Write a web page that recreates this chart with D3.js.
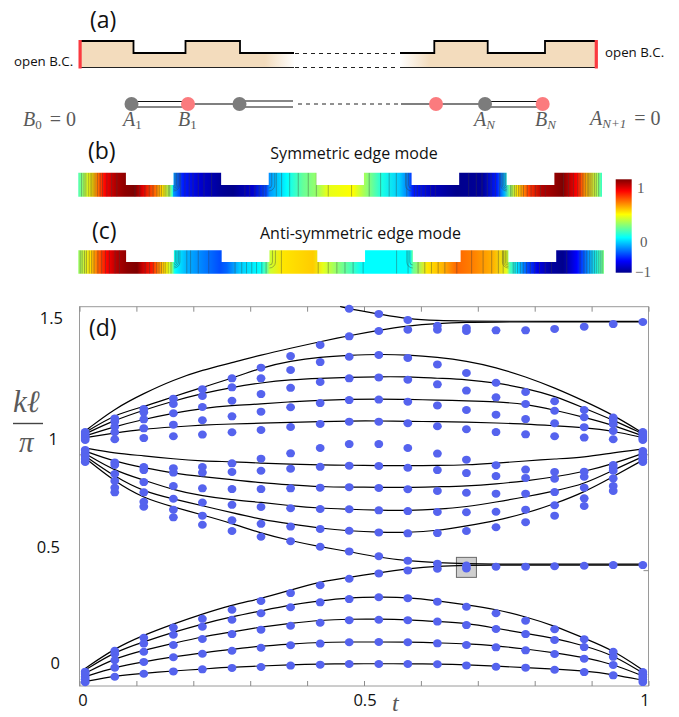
<!DOCTYPE html>
<html>
<head>
<meta charset="utf-8">
<script src="https://cdn.jsdelivr.net/npm/d3@7"></script>
<style>
  html, body { margin: 0; padding: 0; background: #fff; }
  svg { display: block; }
  text { font-family: "Open Sans", sans-serif; fill: #111; }
  .math { font-family: "Liberation Serif", serif; fill: #5a5a5a; }
</style>
</head>
<body>
<div id="chart"></div>
<script>
// panel (d): measured points, one list per t column
var dotT = [0.01, 0.062, 0.113, 0.165, 0.216, 0.268, 0.319, 0.371, 0.423, 0.474, 0.526, 0.577, 0.629, 0.68, 0.732, 0.784, 0.835, 0.887, 0.938, 0.99]
var dotK = [
  [.016, .029, .040, .052, .062, .967, .980, .993, 1.006, 1.019, 1.062, 1.070, 1.079, 1.088, 1.096],
  [.040, .079, .111, .138, .152, .836, .856, .885, .915, .954, .965, 1.065, 1.095, 1.119, 1.141, 1.155],
  [.053, .104, .148, .183, .208, .774, .795, .836, .880, .932, .945, 1.070, 1.112, 1.151, 1.181, 1.196],
  [.063, .124, .177, .221, .252, .728, .761, .808, .863, .921, .940, 1.078, 1.128, 1.177, 1.217, 1.240],
  [.072, .139, .203, .256, .290, .696, .735, .792, .853, .921, .945, 1.085, 1.147, 1.204, 1.252, 1.281],
  [.078, .152, .224, .286, .329, .669, .715, .782, .850, .924, .961, 1.095, 1.164, 1.231, 1.289, 1.328],
  [.082, .165, .243, .314, .367, .644, .700, .773, .850, .929, .981, 1.105, 1.184, 1.260, 1.328, 1.374],
  [.088, .176, .260, .340, .401, .625, .688, .767, .853, .938, 1.004, 1.118, 1.203, 1.287, 1.364, 1.424],
  [.092, .183, .273, .361, .435, .601, .678, .764, .856, .946, 1.027, 1.131, 1.221, 1.312, 1.398, 1.472],
  [.095, .189, .284, .375, .463, .581, .670, .763, .858, .951, 1.044, 1.141, 1.234, 1.328, 1.421, 1.509, 1.628],
  [.095, .190, .286, .383, .486, .560, .663, .758, .855, .950, 1.044, 1.141, 1.236, 1.332, 1.429, 1.532, 1.606],
  [.095, .189, .284, .379, .499, .541, .659, .755, .849, .942, 1.027, 1.134, 1.227, 1.322, 1.416, 1.538, 1.580],
  [.094, .184, .278, .364, .506, .528, .660, .751, .842, .932, 1.003, 1.121, 1.211, 1.302, 1.388, 1.538, 1.555],
  [.089, .177, .263, .342, .507, .520, .669, .750, .834, .919, .977, 1.108, 1.191, 1.275, 1.351, 1.532, 1.545],
  [.083, .167, .246, .314, .515, .685, .752, .830, .906, .953, 1.096, 1.171, 1.246, 1.309, 1.535],
  [.079, .154, .224, .282, .515, .707, .761, .830, .898, .934, 1.086, 1.152, 1.217, 1.269, 1.535],
  [.070, .138, .199, .245, .517, .735, .780, .837, .895, .924, 1.078, 1.134, 1.188, 1.229, 1.541],
  [.060, .118, .168, .202, .519, .777, .810, .856, .903, .925, 1.072, 1.117, 1.160, 1.191, 1.551],
  [.046, .091, .126, .148, .522, .842, .863, .896, .929, .941, .954, 1.065, 1.101, 1.130, 1.148, 1.159, 1.562],
  [.017, .028, .039, .050, .060, .522, .967, .978, .988, 1.001, 1.014, 1.062, 1.070, 1.079, 1.088, 1.096, 1.571]
]

// panel (d): theory curves, values at each t in dotT
var bandC1 = [.019, .044, .055, .065, .073, .082, .086, .092, .095, .096, .096, .096, .095, .092, .086, .079, .073, .065, .050, .025]
var bandC2 = [.040, .081, .105, .126, .144, .158, .173, .181, .189, .190, .190, .190, .186, .183, .174, .160, .144, .124, .094, .043]
var bandC3 = [.055, .120, .155, .184, .213, .233, .255, .271, .284, .289, .289, .286, .278, .272, .249, .227, .206, .174, .134, .056]
var bandC4 = [.069, .148, .191, .232, .268, .299, .324, .350, .368, .381, .384, .383, .368, .351, .331, .299, .260, .206, .155, .069]
var edgeLow = [.076, .163, .220, .268, .311, .350, .377, .414, .450, .469, .489, .506, .518, .521, .522, .522, .522, .522, .522, .522]
var edgeMid = [.984, .882, .810, .773, .738, .702, .659, .627, .601, .580, .555, .540, .532, .528, .526, .526, .526, .526, .526, .526]
var bandD4 = [.993, .903, .839, .807, .778, .748, .719, .699, .681, .669, .663, .662, .670, .691, .713, .745, .786, .836, .903, .975]
var bandD3 = [1.003, .928, .889, .846, .820, .803, .793, .778, .767, .763, .758, .757, .762, .773, .794, .816, .842, .871, .932, .990]
var bandD2 = [1.014, .968, .942, .918, .903, .891, .877, .868, .860, .858, .858, .856, .860, .863, .872, .885, .902, .925, .959, 1.004]
var bandD1 = [1.027, 1.004, .994, .980, .971, .968, .962, .958, .954, .953, .951, .951, .952, .954, .962, .971, .980, .987, 1.007, 1.023]
var bandU1 = [1.072, 1.092, 1.109, 1.118, 1.126, 1.131, 1.134, 1.138, 1.141, 1.144, 1.144, 1.142, 1.141, 1.139, 1.135, 1.131, 1.123, 1.115, 1.101, 1.072]
var bandU2 = [1.079, 1.120, 1.151, 1.177, 1.199, 1.211, 1.217, 1.227, 1.233, 1.237, 1.239, 1.237, 1.234, 1.231, 1.227, 1.217, 1.191, 1.160, 1.126, 1.079]
var bandU3 = [1.088, 1.148, 1.191, 1.230, 1.263, 1.289, 1.309, 1.322, 1.328, 1.332, 1.335, 1.335, 1.328, 1.323, 1.309, 1.285, 1.252, 1.199, 1.148, 1.088]
var bandU4 = [1.094, 1.172, 1.205, 1.249, 1.289, 1.328, 1.374, 1.403, 1.420, 1.427, 1.432, 1.429, 1.419, 1.403, 1.375, 1.335, 1.287, 1.230, 1.170, 1.092]
var edgeTop = [1.101, 1.198, 1.263, 1.321, 1.364, 1.395, 1.429, 1.458, 1.486, 1.512, 1.536, 1.555, 1.565, 1.570, 1.571, 1.571, 1.571, 1.571, 1.571, 1.571]
// this one comes in from above the frame, so it has its own t list
var fallT = [0.458, 0.474, 0.526, 0.577, 0.629, 0.68, 0.732, 0.99]
var fallK = [1.638, 1.627, 1.606, 1.584, 1.577, 1.575, 1.574, 1.574]

var curveList = [bandC1, bandC2, bandC3, bandC4, edgeLow, edgeMid, bandD4, bandD3, bandD2, bandD1, bandU1, bandU2, bandU3, bandU4, edgeTop]

var xTicks = [0, 0.1, 0.2, 0.3, 0.4, 0.5, 0.6, 0.7, 0.8, 0.9, 1]
var xLabels = ["0", "0.5", "1"]
var yLabels = ["0", "0.5", "1", "1.5"]
var boxT = 0.68, boxK = 0.512

// panels (b), (c): field along the strip, position in step lengths and value
var fieldBU = [0, .2, .29, .39, .56, .77, .98, 1.19, 1.36, 1.61, 1.78, 1.92, 1.99, 2, 2.2, 2.55, 2.97, 3.25, 3.67, 3.96, 4.02, 4.38, 4.72, 5.01, 5.22, 5.77, 5.97, 6.39, 6.75, 6.92, 7.03, 7.45, 7.95, 8.49, 8.79, 8.95, 9.06, 9.21, 9.48, 9.75, 10.17, 10.47, 10.68, 10.89, 11]
var fieldBV = [-.1, .2, .3, .5, .75, .9, .97, 1, .8, .55, .3, .05, -.2, -.45, -.7, -.85, -.97, -1, -.85, -.6, -.45, -.25, -.05, .05, .2, .25, .1, -.2, -.35, -.5, -.7, -.9, -1, -.97, -.7, -.4, 0, .3, .65, .9, 1, .75, .4, .1, -.15]
var fieldCU = [0, .24, .41, .6, .81, 1.02, 1.23, 1.35, 1.54, 1.71, 1.86, 1.96, 2.02, 2.27, 2.61, 2.96, 3.11, 3.38, 3.8, 3.95, 4.01, 4.28, 4.91, 5.12, 5.47, 5.68, 5.96, 6.94, 7, 7.3, 7.63, 7.92, 8.26, 8.68, 8.97, 9.03, 9.18, 9.39, 9.6, 9.87, 10.14, 10.43, 10.64, 10.85, 11]
var fieldCV = [.05, .3, .55, .75, .9, .97, 1, .85, .7, .45, .25, .05, -.25, -.4, -.5, -.6, -.55, -.35, -.25, -.05, .15, .3, .35, .2, 0, -.1, -.25, -.25, -.05, .3, .4, .55, .5, .4, .2, -.1, -.3, -.6, -.8, -.95, -1, -.75, -.5, -.2, 0]
var contourB = [.07, .12, .16, .21, .25, .28, .31, .35, .40, .46, .51, .6, .7, .81, 1.19, 1.29, 1.4, 1.49, 1.57, 1.65, 1.7, 1.75, 1.8, 1.84, 1.89, 1.92, 2.15, 2.24, 2.33, 2.41, 2.52, 2.64, 2.8, 3.5, 3.6, 3.71, 3.8, 3.88, 3.94, 4.16, 4.27, 4.44, 4.62, 4.83, 5, 5.25, 5.74, 6.11, 6.35, 6.53, 6.68, 6.9, 7.06, 7.12, 7.2, 7.29, 7.4, 7.5, 8.2, 8.36, 8.48, 8.59, 8.67, 8.76, 8.85, 9.08, 9.11, 9.16, 9.2, 9.25, 9.3, 9.35, 9.43, 9.51, 9.6, 9.71, 9.81, 10.19, 10.3, 10.4, 10.49, 10.54, 10.6, 10.65, 10.69, 10.72, 10.75, 10.79, 10.84, 10.88, 10.93]
var contourC = [.04, .08, .13, .17, .23, .28, .33, .41, .49, .57, .65, .77, .86, 1.4, 1.49, 1.57, 1.64, 1.69, 1.74, 1.79, 1.83, 1.88, 1.94, 2.27, 2.35, 2.51, 2.73, 3.28, 3.42, 3.52, 3.63, 3.73, 3.84, 3.93, 4.25, 5.02, 5.23, 5.41, 5.58, 5.75, 5.96, 6.66, 6.9, 7.11, 7.25, 7.39, 7.53, 7.67, 7.92, 8.23, 8.47, 8.65, 8.79, 8.89, 9.1, 9.14, 9.19, 9.25, 9.31, 9.38, 9.46, 9.55, 9.65, 9.77, 9.9, 10.22, 10.5, 10.58, 10.64, 10.7, 10.75, 10.8, 10.84, 10.88, 10.92, 10.96]
var stripLevels = [1, 0, 1, 0, 1, 0, 1, 0, 1, 0, 1]
var cornerSteps = [2, 4, 7, 9]
var colorbarTicks = ["1", "0", "\u22121"]

var svg = d3.select("#chart").append("svg").attr("width", 679).attr("height", 717)
var defs = svg.append("defs")

// jet colormap
var jet = d3.scaleLinear()
  .domain([-1, -.75, -.25, .25, .75, 1])
  .range(["#00008c", "#0000ff", "#00ffff", "#ffff00", "#ff0000", "#7f0000"])

function label(s, x, y, size, anchor) {
  return svg.append("text").attr("x", x).attr("y", y).attr("font-size", size)
    .attr("text-anchor", anchor || "start").text(s)
}

// text like  A_N = 0  in a TeX looking face
function mathLabel(x, y, base, sub, tail) {
  var t = svg.append("text").attr("class", "math").attr("x", x).attr("y", y).attr("font-size", 20)
  t.append("tspan").attr("font-style", "italic").text(base)
  t.append("tspan").attr("font-size", 13).attr("dy", 3).attr("font-style", sub == "0" || sub == "1" ? "normal" : "italic").text(sub)
  if (tail) t.append("tspan").attr("dy", -3).attr("dx", 8).text(tail)
}

/* ---------- panel (a) ---------- */
var peach = "#f3dcbd"
var gradL = defs.append("linearGradient").attr("id", "fadeL")
  .attr("gradientUnits", "userSpaceOnUse").attr("x1", 265).attr("x2", 295).attr("y1", 0).attr("y2", 0)
gradL.append("stop").attr("offset", 0).attr("stop-color", peach)
gradL.append("stop").attr("offset", 1).attr("stop-color", "#fff")
var gradR = defs.append("linearGradient").attr("id", "fadeR")
  .attr("gradientUnits", "userSpaceOnUse").attr("x1", 400).attr("x2", 430).attr("y1", 0).attr("y2", 0)
gradR.append("stop").attr("offset", 0).attr("stop-color", "#fff")
gradR.append("stop").attr("offset", 1).attr("stop-color", peach)

var wallL = "M80,41H133.5V53H185.5V41H240V53H294"
var wallR = "M400,53H434.3V41H487.7V53H545V41H595"
svg.append("path").attr("d", wallL + "V67.5H80Z").attr("fill", "url(#fadeL)")
svg.append("path").attr("d", wallR + "V67.5H400Z").attr("fill", "url(#fadeR)")
svg.append("path").attr("d", wallL).attr("fill", "none").attr("stroke", "#000").attr("stroke-width", 1.8)
svg.append("path").attr("d", wallR).attr("fill", "none").attr("stroke", "#000").attr("stroke-width", 1.8)
svg.append("path").attr("d", "M80,67.5H294M400,67.5H595").attr("stroke", "#222").attr("stroke-width", 1.2).attr("fill", "none")
svg.append("path").attr("d", "M295,53.5H399M295,67.5H399").attr("stroke", "#222").attr("stroke-width", 1)
  .attr("stroke-dasharray", "4 4").attr("fill", "none")
svg.append("rect").attr("x", 78.5).attr("y", 40).attr("width", 3.2).attr("height", 28.5).attr("fill", "#fb3a40")
svg.append("rect").attr("x", 594.7).attr("y", 40).attr("width", 3.2).attr("height", 28.5).attr("fill", "#fb3a40")
label("open B.C.", 14, 66, 13.3)
label("open B.C.", 605, 57, 13.3)
label("(a)", 90, 28, 23)

// chain under the waveguide
svg.append("path").attr("d", "M131.5,101.5H188M131.5,107H188M239.5,101H293M239.5,107H293M485,101.5H542.7M485,107H542.7")
  .attr("stroke", "#111").attr("stroke-width", 1.1).attr("fill", "none")
svg.append("path").attr("d", "M188,104H239.5M401,104H485")
  .attr("stroke", "#555").attr("stroke-width", 1.6).attr("fill", "none")
svg.append("path").attr("d", "M298,104H398").attr("stroke", "#222").attr("stroke-width", 1)
  .attr("stroke-dasharray", "4 4").attr("fill", "none")
var siteX = [131.5, 188, 239.5, 436, 485, 542.7]
var siteCol = ["#7c7c7c", "#fb7b7e", "#7c7c7c", "#fb7b7e", "#7c7c7c", "#fb7b7e"]
svg.selectAll("circle.site").data(siteX).enter().append("circle").attr("class", "site")
  .attr("cx", function(d) { return d }).attr("cy", 104).attr("r", 7)
  .attr("fill", function(d, i) { return siteCol[i] })
mathLabel(23, 126, "B", "0", "= 0")
mathLabel(123, 126, "A", "1")
mathLabel(178, 126, "B", "1")
mathLabel(474, 126, "A", "N")
mathLabel(535, 126, "B", "N")
mathLabel(590, 125, "A", "N+1", "= 0")

/* ---------- panels (b), (c) ---------- */
function strip(id, x0, x1, high, low, base, us, vs, contours) {
  var u = d3.scaleLinear().domain([0, stripLevels.length]).range([x0, x1])
  var grad = defs.append("linearGradient").attr("id", "grad" + id)
    .attr("gradientUnits", "userSpaceOnUse").attr("x1", x0).attr("x2", x1).attr("y1", 0).attr("y2", 0)
  us.forEach(function(d, i) {
    grad.append("stop").attr("offset", d / stripLevels.length).attr("stop-color", jet(vs[i]))
  })
  var d = "M" + x0 + "," + base
  stripLevels.forEach(function(l, i) {
    var y = l ? high : low
    d += "V" + y + "H" + u(i + 1)
  })
  d += "V" + base + "Z"
  defs.append("clipPath").attr("id", "clip" + id).append("path").attr("d", d)
  svg.append("path").attr("d", d).attr("fill", "url(#grad" + id + ")")
  var g = svg.append("g").attr("clip-path", "url(#clip" + id + ")")
    .attr("stroke", "#3a3a3a").attr("stroke-opacity", 0.65).attr("stroke-width", 0.6).attr("fill", "none")
  g.selectAll("line").data(contours).enter().append("line")
    .attr("x1", function(c) { return u(c) }).attr("x2", function(c) { return u(c) })
    .attr("y1", high).attr("y2", base)
  // contours bend round the inner corners, into the tall block
  cornerSteps.forEach(function(c) {
    var radii = (c == 2 || c == 9) ? [1.5, 3, 4.5, 6] : [3, 6]
    var side = c < 5 ? 1 : -1
    radii.forEach(function(r) {
      g.append("path").attr("d", "M" + u(c) + "," + (low + r) +
        "A" + r + "," + r + " 0 0 " + (side > 0 ? 0 : 1) + " " + (u(c) + side * r) + "," + low + "V" + high)
    })
  })
}
strip("B", 78.3, 602, 172.7, 185, 196.7, fieldBU, fieldBV, contourB)
strip("C", 78.3, 604, 250.3, 262, 273.7, fieldCU, fieldCV, contourC)
label("(b)", 88, 159, 23)
label("(c)", 92, 239, 23)
label("Symmetric edge mode", 354, 159, 16, "middle")
label("Anti-symmetric edge mode", 360.5, 239, 16, "middle")

// colorbar
var barScale = d3.scaleLinear().domain([-1, 1]).range([272.7, 179.3])
var barGrad = defs.append("linearGradient").attr("id", "barGrad")
  .attr("x1", 0).attr("x2", 0).attr("y1", 1).attr("y2", 0)
jet.domain().forEach(function(v) {
  barGrad.append("stop").attr("offset", (v + 1) / 2).attr("stop-color", jet(v))
})
svg.append("rect").attr("x", 615.7).attr("y", barScale(1)).attr("width", 16)
  .attr("height", barScale(-1) - barScale(1)).attr("fill", "url(#barGrad)")
svg.append("text").attr("class", "math").attr("x", 637).attr("y", 193).attr("font-size", 15).text(colorbarTicks[0])
svg.append("text").attr("class", "math").attr("x", 640).attr("y", 247).attr("font-size", 15).text(colorbarTicks[1])
svg.append("text").attr("class", "math").attr("x", 635).attr("y", 277).attr("font-size", 15).text(colorbarTicks[2])

/* ---------- panel (d) ---------- */
var x = d3.scaleLinear().domain([0, 1]).range([79.5, 648.5])
var y = d3.scaleLinear().domain([0, 1]).range([686, 454.3])
var frameTop = 306.7, frameBottom = 686

var frame = svg.append("g").attr("fill", "none").attr("stroke", "#9a9a9a")
frame.append("rect").attr("x", x(0)).attr("y", frameTop).attr("width", x(1) - x(0)).attr("height", frameBottom - frameTop)

function styleAxis(g) {
  g.select(".domain").remove()
  g.selectAll(".tick line").attr("stroke", "#8c8c8c")
  g.selectAll(".tick text").remove()
}
svg.append("g").attr("transform", "translate(0," + frameTop + ")")
  .call(d3.axisBottom(x).tickValues(xTicks).tickSize(5)).call(styleAxis)
svg.append("g").attr("transform", "translate(0," + frameBottom + ")")
  .call(d3.axisTop(x).tickValues(xTicks).tickSize(5)).call(styleAxis)
svg.append("g").attr("transform", "translate(" + x(0) + ",0)")
  .call(d3.axisRight(y).tickValues([1]).tickSize(4)).call(styleAxis)
svg.append("g").attr("transform", "translate(" + x(1) + ",0)")
  .call(d3.axisLeft(y).tickValues([0.5, 1]).tickSize(5)).call(styleAxis)

// gray box round the edge state
svg.append("rect").attr("x", x(boxT) - 10).attr("y", y(boxK) - 10).attr("width", 20).attr("height", 20)
  .attr("fill", "#cfcfcf").attr("stroke", "#6a6a6a").attr("stroke-width", 1)

var line = d3.line()
  .x(function(d) { return x(d[0]) })
  .y(function(d) { return y(d[1]) })
  .curve(d3.curveBasis)
var curves = svg.append("g").attr("fill", "none").attr("stroke", "#000").attr("stroke-width", 1.2)
curveList.forEach(function(c) {
  curves.append("path").attr("d", line(d3.zip(dotT, c)))
})
curves.append("path").attr("d", line(d3.zip(fallT, fallK)))

var dots = svg.append("g").attr("fill", "#5563ee")
dotT.forEach(function(t, i) {
  dots.selectAll(null).data(dotK[i]).enter().append("ellipse")
    .attr("cx", x(t)).attr("cy", function(d) { return y(d) })
    .attr("rx", 4.4).attr("ry", 4)
})

// tick labels sit off their ticks in the original
var xLabelShift = [3.5, 1, -3.5]
xLabels.forEach(function(s, i) {
  label(s, x(+s) + xLabelShift[i], 706, 16.5, "middle")
})
var yLabelShift = [-17, -17, -9, -14]
var yLabelRight = [60, 60, 58, 63]
yLabels.forEach(function(s, i) {
  label(s, yLabelRight[i], y(+s) + yLabelShift[i], 16.5, "end")
})
label("(d)", 89, 336, 23)

svg.append("text").attr("class", "math").attr("x", 13).attr("y", 412).attr("font-size", 31)
  .attr("font-style", "italic").attr("fill", "#444").text("k\u2113")
svg.append("line").attr("x1", 13).attr("x2", 43).attr("y1", 423.5).attr("y2", 423.5)
  .attr("stroke", "#444").attr("stroke-width", 1.4)
svg.append("text").attr("class", "math").attr("x", 19).attr("y", 452).attr("font-size", 29)
  .attr("font-style", "italic").text("\u03c0")
svg.append("text").attr("class", "math").attr("x", 392).attr("y", 711).attr("font-size", 24)
  .attr("font-style", "italic").text("t")
</script>
</body>
</html>
